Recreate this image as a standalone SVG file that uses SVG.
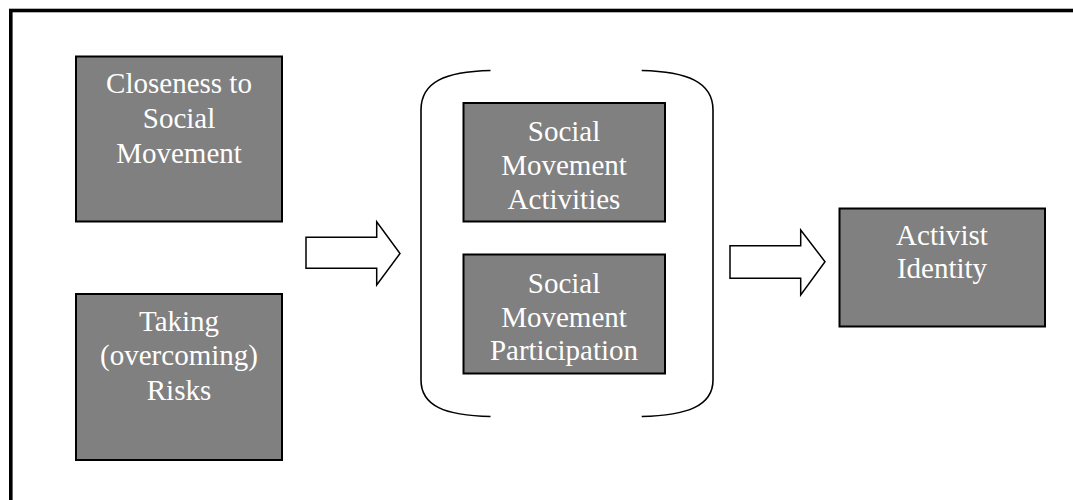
<svg xmlns="http://www.w3.org/2000/svg" width="1073" height="500" viewBox="0 0 1073 500">
<style>
.box{fill:#808080;stroke:#000;stroke-width:2}
.lbl{font-family:"Liberation Serif","Times New Roman",serif;font-size:29px;fill:#fff;text-anchor:middle}
.arr{fill:#fff;stroke:#000;stroke-width:1.5;stroke-linejoin:miter}
.brk{fill:none;stroke:#000;stroke-width:1.6}
</style>
<rect x="0" y="0" width="1073" height="500" fill="#fff"/>
<rect x="10.8" y="10.5" width="1100" height="520" fill="none" stroke="#000" stroke-width="3.6"/>
<g id="n1">
<rect class="box" x="76" y="56.5" width="206" height="165"/>
<text class="lbl" x="179" y="93">Closeness to</text>
<text class="lbl" x="179" y="128">Social</text>
<text class="lbl" x="179" y="163">Movement</text>
</g>
<g id="n2">
<rect class="box" x="76" y="294" width="206" height="166"/>
<text class="lbl" x="179" y="331">Taking</text>
<text class="lbl" x="179" y="365">(overcoming)</text>
<text class="lbl" x="179" y="400">Risks</text>
</g>
<g id="n3">
<rect class="box" x="463.5" y="103" width="201.5" height="118.5"/>
<text class="lbl" x="564" y="141">Social</text>
<text class="lbl" x="564" y="175">Movement</text>
<text class="lbl" x="564" y="208.5">Activities</text>
</g>
<g id="n4">
<rect class="box" x="463.5" y="254.5" width="201.5" height="119"/>
<text class="lbl" x="564" y="292.5">Social</text>
<text class="lbl" x="564" y="326.5">Movement</text>
<text class="lbl" x="564" y="360">Participation</text>
</g>
<g id="n5">
<rect class="box" x="839.5" y="208.5" width="205.5" height="118"/>
<text class="lbl" x="942" y="245">Activist</text>
<text class="lbl" x="942" y="278">Identity</text>
</g>
<g id="group">
<path class="brk" d="M490.5,70.5 C445,71.5 421,82 421,110 L421,380 C421,406 445,415.5 490.5,416.5"/>
<path class="brk" d="M641.7,70.5 C687,71.5 713,82 713,110 L713,380 C713,406 687,415.5 641.7,416.5"/>
</g>
<g id="connectors">
<polygon class="arr" points="306,237.3 376.7,237.3 376.7,221.7 400,253.5 376.7,285 376.7,268.3 306,268.3"/>
<polygon class="arr" points="730,245.7 800.7,245.7 800.7,230 825,261.7 800.7,295 800.7,278.3 730,278.3"/>
</g>
</svg>
